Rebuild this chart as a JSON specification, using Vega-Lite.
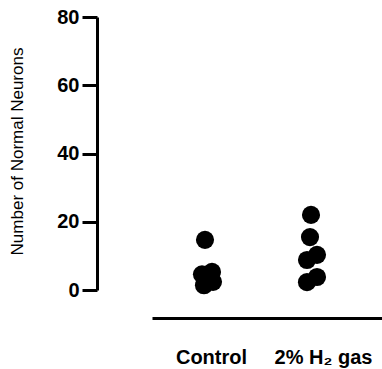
{
  "$schema": "https://vega.github.io/schema/vega-lite/v6.json",
  "width": 230,
  "height": 273,
  "autosize": "none",
  "padding": {"left": 152, "top": 17, "right": 0, "bottom": 79},
  "background": "white",
  "config": {
    "view": {"stroke": null},
    "font": "Liberation Sans"
  },
  "data": {
    "values": [
      {"group": "Control", "neurons": 14.7, "jitter": -2},
      {"group": "Control", "neurons": 5.3, "jitter": 5},
      {"group": "Control", "neurons": 4.6, "jitter": -5},
      {"group": "Control", "neurons": 2.4, "jitter": 6},
      {"group": "Control", "neurons": 1.4, "jitter": -3},
      {"group": "2% H₂ gas", "neurons": 22.0, "jitter": 0},
      {"group": "2% H₂ gas", "neurons": 15.5, "jitter": -1},
      {"group": "2% H₂ gas", "neurons": 10.3, "jitter": 6},
      {"group": "2% H₂ gas", "neurons": 8.8, "jitter": -4},
      {"group": "2% H₂ gas", "neurons": 3.8, "jitter": 6},
      {"group": "2% H₂ gas", "neurons": 2.3, "jitter": -4}
    ]
  },
  "mark": {"type": "circle", "size": 330, "color": "black", "opacity": 1},
  "encoding": {
    "x": {
      "field": "group",
      "type": "nominal",
      "sort": ["Control", "2% H₂ gas"],
      "scale": {"type": "point", "padding": 0.6058, "align": 0.4365},
      "axis": {
        "title": null,
        "labelAngle": 0,
        "ticks": false,
        "domainWidth": 3,
        "domainColor": "black",
        "offset": 28,
        "labelFontSize": 20,
        "labelFontWeight": "bold",
        "labelColor": "black",
        "labelPadding": 29,
        "labelOffset": {"condition": {"test": "datum.value === 'Control'", "value": 4}, "value": 12}
      }
    },
    "xOffset": {
      "field": "jitter",
      "type": "quantitative",
      "scale": {"domain": [-10, 10], "range": [-10, 10]},
      "legend": null
    },
    "y": {
      "field": "neurons",
      "type": "quantitative",
      "scale": {"domain": [0, 80], "nice": false},
      "axis": {
        "title": "Number of Normal Neurons",
        "titleFontSize": 17,
        "titleFontWeight": "normal",
        "titleColor": "black",
        "titlePadding": 30,
        "titleY": 134,
        "values": [0, 20, 40, 60, 80],
        "grid": false,
        "offset": 55,
        "domainWidth": 3,
        "domainColor": "black",
        "tickWidth": 3,
        "tickSize": 15,
        "tickColor": "black",
        "labelFontSize": 20,
        "labelFontWeight": "bold",
        "labelColor": "black",
        "labelPadding": 3
      }
    }
  }
}
